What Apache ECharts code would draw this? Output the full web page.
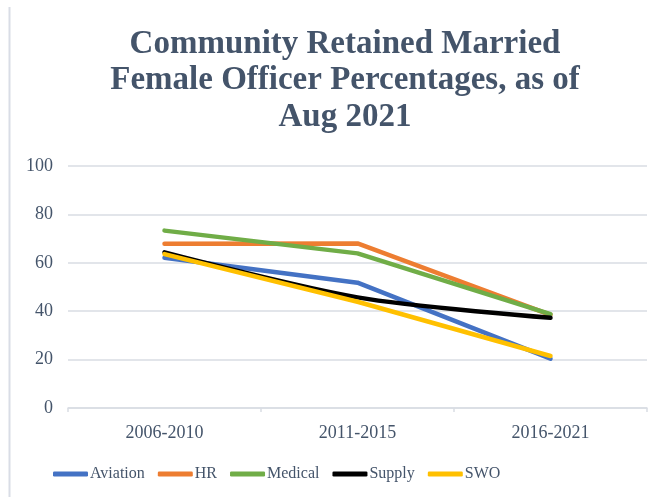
<!DOCTYPE html>
<html>
<head>
<meta charset="utf-8">
<script src="https://cdn.jsdelivr.net/npm/echarts@6/dist/echarts.min.js"></script>
<style>html,body{margin:0;padding:0;background:#fff;}#c{width:657px;height:497px;}</style>
</head>
<body>
<div id="c"></div>
<script>
var categories = ['2006-2010', '2011-2015', '2016-2021'];
var seriesNames = ['Aviation', 'HR', 'Medical', 'Supply', 'SWO'];
var aviation = [62.1, 51.8, 20.4];
var hr = [67.9, 68.0, 38.5];
var medical = [73.3, 63.9, 38.8];
var supply = [64.3, 45.7, 37.3];
var swo = [63.6, 43.9, 21.5];
var yTicks = [0, 20, 40, 60, 80, 100];
var colors = ['#4472C4', '#ED7D31', '#70AD47', '#000000', '#FFC000'];
var values = [aviation, hr, medical, supply, swo];
var smoothFlags = [false, false, false, true, false];

var chart = echarts.init(document.getElementById('c'), null, {renderer: 'canvas'});
var serif = '"Liberation Serif", "DejaVu Serif", serif';
chart.setOption({
  animation: false,
  backgroundColor: '#ffffff',
  title: {
    text: 'Community Retained Married\nFemale Officer Percentages, as of\nAug 2021',
    left: 340,
    textAlign: 'center',
    top: 21,
    textStyle: {fontFamily: serif, fontWeight: 'bold', fontSize: 33, lineHeight: 36.5, color: '#44546A'}
  },
  graphic: [{
    type: 'line', shape: {x1: 9.5, y1: 7, x2: 9.5, y2: 497},
    style: {stroke: '#D9DDE6', lineWidth: 2}
  }],
  legend: {
    bottom: 10,
    left: 48,
    itemWidth: 35,
    itemHeight: 5,
    itemGap: 13,
    icon: 'roundRect',
    data: seriesNames,
    textStyle: {fontFamily: serif, fontSize: 16, color: '#44546A', padding: [0, 0, 0, -3]}
  },
  grid: {left: 68, right: 10, top: 166, bottom: 89},
  xAxis: {
    type: 'category',
    data: categories,
    boundaryGap: true,
    axisLine: {lineStyle: {color: '#D9DDE3', width: 1.5}},
    axisTick: {show: true, length: 4, lineStyle: {color: '#D9DDE3', width: 1.5}},
    axisLabel: {fontFamily: serif, fontSize: 18, color: '#44546A', margin: 16}
  },
  yAxis: {
    type: 'value',
    min: 0, max: 100, interval: 20,
    axisLine: {show: false},
    axisTick: {show: false},
    splitLine: {lineStyle: {color: '#D9DDE3', width: 1.5}},
    axisLabel: {fontFamily: serif, fontSize: 18, color: '#44546A', margin: 15,
      formatter: function (v) { return yTicks.indexOf(v) >= 0 ? String(v) : ''; }}
  },
  series: seriesNames.map(function (n, i) {
    return {
      name: n,
      type: 'line',
      data: values[i],
      symbol: 'none',
      smooth: smoothFlags[i] ? 0.3 : false,
      color: colors[i],
      lineStyle: {width: 4.5, color: colors[i], cap: 'round', join: 'round'},
      z: 2 + i
    };
  })
});
</script>
</body>
</html>
